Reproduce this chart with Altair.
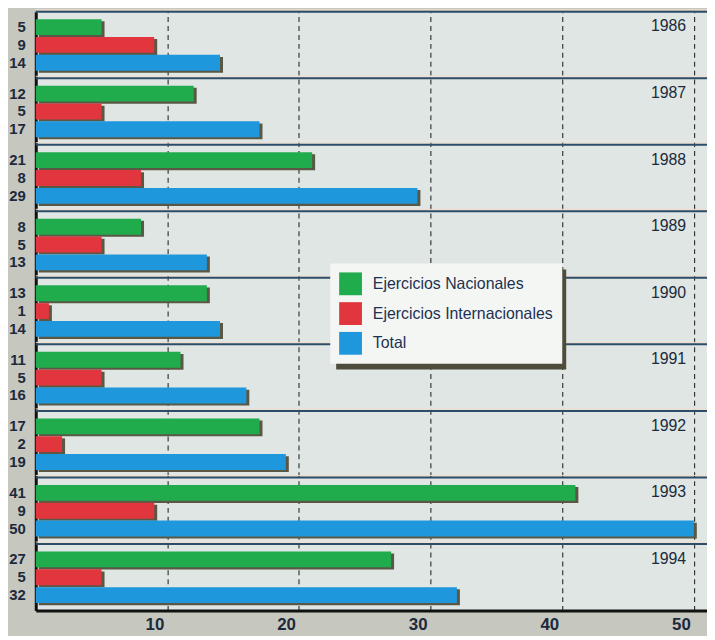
import altair as alt
import pandas as pd

years = ["1986", "1987", "1988", "1989", "1990", "1991", "1992", "1993", "1994"]
nacionales = [5, 12, 21, 8, 13, 11, 17, 41, 27]
internacionales = [9, 5, 8, 5, 1, 5, 2, 9, 5]
total = [14, 17, 29, 13, 14, 16, 19, 50, 32]
series = ["Ejercicios Nacionales", "Ejercicios Internacionales", "Total"]
colors = ["#20ac4c", "#e2363e", "#1f97dc"]
x_ticks = [10, 20, 30, 40, 50]

rows = []
for i, y in enumerate(years):
    for s, vals in zip(series, [nacionales, internacionales, total]):
        rows.append({"year": y, "series": s, "value": vals[i]})
df = pd.DataFrame(rows)
years_df = pd.DataFrame({"year": years})

W, H = 677, 604
FONT = "Liberation Sans"
TXT = "#1c2a3c"

y_scale = alt.Scale(domain=years, paddingInner=0, paddingOuter=0)
y_axis = alt.Axis(labels=False, ticks=False, title=None, grid=False,
                  domainColor="#111111", domainWidth=3)
x_scale = alt.Scale(domain=[0, 51], nice=False, zero=True)
x_axis = alt.Axis(values=x_ticks, title=None, ticks=False, grid=True,
                  gridDash=[5, 4], gridColor="#2a2a2a", gridWidth=1.1,
                  domainColor="#111111", domainWidth=3,
                  labelFont=FONT, labelFontSize=17, labelFontWeight="bold",
                  labelColor=TXT, labelPadding=6, labelOffset=-13)
yoff = alt.YOffset("series:N", sort=series,
                   scale=alt.Scale(type="band", domain=series, paddingInner=0.11, paddingOuter=0.42))
yoff_shadow = alt.YOffset("series:N", sort=series,
                          scale=alt.Scale(type="band", domain=series, paddingInner=0.11,
                                          paddingOuter=0.42, align=0.64))

base = alt.Chart(df)

sep_light = alt.Chart(years_df).mark_rule(color="#f3dccb", strokeWidth=1, yOffset=-2).encode(
    y=alt.Y("year:O", bandPosition=0, scale=y_scale, axis=y_axis)
)
sep_dark = alt.Chart(years_df).mark_rule(color="#2c4c68", strokeWidth=2).encode(
    y=alt.Y("year:O", bandPosition=0, scale=y_scale, axis=y_axis)
)

shadow = base.mark_bar(color="#5a5844", xOffset=3).encode(
    x=alt.X("value:Q", scale=x_scale, axis=x_axis),
    y=alt.Y("year:O", scale=y_scale, axis=y_axis),
    yOffset=yoff_shadow,
)

bars = base.mark_bar().encode(
    x=alt.X("value:Q", scale=x_scale, axis=x_axis),
    y=alt.Y("year:O", scale=y_scale, axis=y_axis),
    yOffset=yoff,
    color=alt.Color("series:N", scale=alt.Scale(domain=series, range=colors),
                    legend=alt.Legend(orient="none", legendX=297, legendY=254, title=None,
                                      fillColor="#f4f6f4", padding=9,
                                      symbolType="square", symbolSize=529,
                                      symbolStrokeWidth=0, symbolOpacity=1,
                                      labelFont=FONT, labelFontSize=16, labelLimit=300,
                                      labelColor="#1d3252", rowPadding=7,
                                      labelOffset=11)),
)

left_labels = base.mark_text(align="right", baseline="middle", font=FONT,
                             fontSize=15, fontWeight="bold", color=TXT).encode(
    x=alt.value(-10),
    y=alt.Y("year:O", scale=y_scale, axis=y_axis),
    yOffset=yoff,
    text="value:Q",
)

year_labels = alt.Chart(years_df).mark_text(align="right", baseline="top", dy=7,
                                            font=FONT, fontSize=16, color=TXT).encode(
    x=alt.value(656),
    y=alt.Y("year:O", bandPosition=0, scale=y_scale, axis=y_axis),
    text="year:N",
)

legend_shadow = alt.Chart(years_df.head(1)).mark_rect(color="#4e4d3c").encode(
    x=alt.value(303), x2=alt.value(535), y=alt.value(260), y2=alt.value(361)
)

layered = alt.layer(sep_light, sep_dark, legend_shadow, shadow, bars, left_labels, year_labels)
layered = layered.resolve_scale(yOffset="independent")

chart = layered.properties(
    width=W, height=H,
    background="#c6c8c0",
    padding={"left": 28, "top": 1, "right": 0, "bottom": 23},
    autosize=alt.AutoSizeParams(type="none"),
).configure_view(fill="#dfe6e3", stroke=None)

chart.save("out.html", embed_options={"renderer": "svg", "actions": False})
